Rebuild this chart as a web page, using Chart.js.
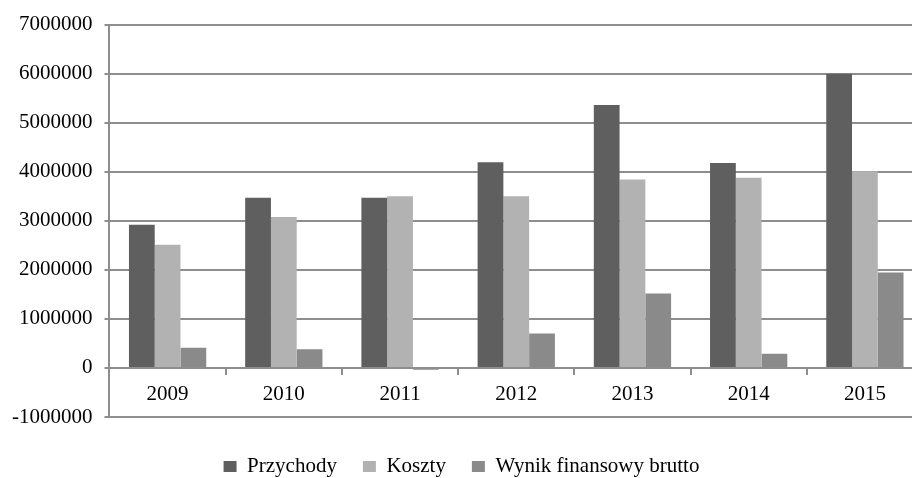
<!DOCTYPE html>
<html>
<head>
<meta charset="utf-8">
<script src="https://cdn.jsdelivr.net/npm/chart.js@4"></script>
<style>
  html, body { margin: 0; padding: 0; background: #fff; overflow: hidden; }
  #wrap { width: 925px; height: 487px; }
</style>
</head>
<body>
<div id="wrap"><canvas id="wykres" width="925" height="487"></canvas></div>
<script>
const lata = ["2009", "2010", "2011", "2012", "2013", "2014", "2015"]
const przychody = [2920000, 3470000, 3470000, 4195000, 5360000, 4180000, 6000000]
const koszty = [2510000, 3080000, 3500000, 3500000, 3840000, 3880000, 4010000]
const wynik = [410000, 380000, -35000, 700000, 1520000, 290000, 1945000]
const yTicks = { min: -1000000, max: 7000000, step: 1000000 }

const szary = "#8e8e8e"
const czcionka = { family: "'Liberation Serif', 'DejaVu Serif', serif", size: 21 }

const ctx = document.getElementById("wykres").getContext("2d")
const chart = new Chart(ctx, {
    type: "bar",
    data: {
        labels: lata,
        datasets: [
            { label: "Przychody", data: przychody, backgroundColor: "#5f5f5f", borderWidth: 0 },
            { label: "Koszty", data: koszty, backgroundColor: "#b2b2b2", borderWidth: 0 },
            { label: "Wynik finansowy brutto", data: wynik, backgroundColor: "#8a8a8a", borderWidth: 0 }
        ]
    },
    options: {
        responsive: false,
        animation: false,
        layout: { padding: { top: 17, left: 0, right: 2, bottom: 0 } },
        datasets: { bar: { categoryPercentage: 0.665, barPercentage: 1.0 } },
        plugins: {
            tooltip: { enabled: false },
            legend: {
                position: "bottom",
                title: { display: true, text: "", font: { size: 1, lineHeight: 1 }, padding: { top: 12, bottom: 0 } },
                labels: { boxWidth: 13, boxHeight: 11, padding: 26, color: "#000", font: czcionka }
            }
        },
        scales: {
            x: {
                position: { y: 0 },
                grid: { display: true, drawOnChartArea: false, drawTicks: true, tickLength: 6, color: szary, lineWidth: 2, offset: true },
                border: { display: true, color: szary, width: 2 },
                ticks: { color: "#000", font: czcionka, padding: 8 }
            },
            y: {
                min: yTicks.min,
                max: yTicks.max,
                grid: { color: szary, lineWidth: 2, tickLength: 5 },
                border: { display: true, color: szary, width: 2 },
                ticks: {
                    stepSize: yTicks.step,
                    color: "#000",
                    font: czcionka,
                    padding: 12,
                    callback: function (v) { return String(v) }
                }
            }
        }
    }
})
</script>
</body>
</html>
